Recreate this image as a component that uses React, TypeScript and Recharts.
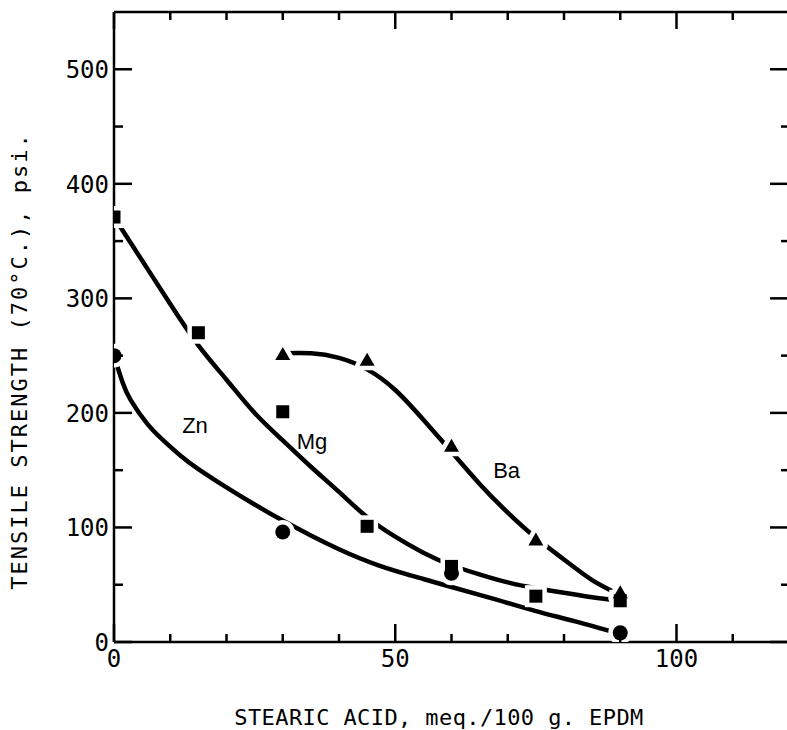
import React from 'react';
import { ComposedChart, Line, Scatter, XAxis, YAxis, ReferenceDot } from 'recharts';

// Measured points (stearic acid meq./100 g EPDM vs tensile strength psi)
const znStearic = [0, 30, 60, 90];
const znTensile = [250, 96, 60, 8];
const mgStearic = [0, 15, 30, 45, 60, 75, 90];
const mgTensile = [371, 270, 201, 101, 66, 40, 36];
const baStearic = [30, 45, 60, 75, 90];
const baTensile = [251, 246, 171, 89, 43];

// Hand-drawn fitted curves
const znCurveX = [0, 1.5, 3, 6, 9, 12, 15, 20, 25, 30, 35, 40, 47, 55, 60, 68, 75, 82, 90];
const znCurveY = [250, 227, 211, 190, 175, 162, 151, 135, 120, 106, 93, 81, 67, 55, 48, 37, 27, 18, 7];
const mgCurveX = [0, 5, 10, 15, 20, 25, 30, 35, 40, 45, 50, 55, 60, 65, 70, 75, 80, 85, 90];
const mgCurveY = [371, 333, 295, 259, 229, 200, 176, 153, 131, 109, 92, 78, 67, 59, 52, 47, 43, 39, 36];
const baCurveX = [30, 35, 40, 45, 50, 55, 60, 65, 70, 75, 80, 85, 90];
const baCurveY = [252, 252, 248, 238, 220, 194, 166, 138, 113, 91, 72, 54, 41];

const xTicks = [0, 10, 20, 30, 40, 50, 60, 70, 80, 90, 100, 110, 120];
const yTicks = [0, 50, 100, 150, 200, 250, 300, 350, 400, 450, 500];
const xLabelTicks = [0, 50, 100];

const X_TITLE = 'STEARIC ACID, meq./100 g. EPDM';
const Y_TITLE = 'TENSILE STRENGTH (70\u00B0C.), psi.';

const pts = (xs: number[], ys: number[]) => xs.map((x, i) => ({ x, y: ys[i] }));

const MONO = '"DejaVu Sans Mono", monospace';
const INK = '#000';
const SW = 2.5;

const BottomTick = (p: any) => {
  const x = Number(p.x);
  const y = Number(p.y);
  const v = p.payload.value;
  const len = v % 50 === 0 ? 18 : 8;
  return (
    <g>
      <line x1={x} y1={y} x2={x} y2={y - len} stroke={INK} strokeWidth={SW} />
      {xLabelTicks.includes(v) && (
        <text x={x} y={y + 25} textAnchor="middle" fontFamily={MONO} fontSize={24} fill={INK}>
          {v}
        </text>
      )}
    </g>
  );
};

const TopTick = (p: any) => {
  const x = Number(p.x);
  const y = Number(p.y);
  const v = p.payload.value;
  const len = v % 50 === 0 ? 17 : 8;
  return <line x1={x} y1={y} x2={x} y2={y + len} stroke={INK} strokeWidth={SW} />;
};

const LeftTick = (p: any) => {
  const x = Number(p.x);
  const y = Number(p.y);
  const v = p.payload.value;
  const major = v % 100 === 0;
  return (
    <g>
      <line x1={x} y1={y} x2={x + (major ? 18 : 9)} y2={y} stroke={INK} strokeWidth={SW} />
      {major && (
        <text x={x - 5} y={y + 9} textAnchor="end" fontFamily={MONO} fontSize={24} fill={INK}>
          {v}
        </text>
      )}
    </g>
  );
};

const RightTick = (p: any) => {
  const x = Number(p.x);
  const y = Number(p.y);
  const v = p.payload.value;
  const len = v % 100 === 0 ? 19 : 8;
  return <line x1={x} y1={y} x2={x - len} y2={y} stroke={INK} strokeWidth={SW} />;
};

const XTitle = () => (
  <text x={439} y={725} textAnchor="middle" fontFamily={MONO} fontSize={22} letterSpacing={0.4} fill={INK}>
    {X_TITLE}
  </text>
);

const YTitle = () => (
  <text x={27} y={361} transform="rotate(-90 27 361)" textAnchor="middle" fontFamily={MONO} fontSize={22} letterSpacing={2} fill={INK}>
    {Y_TITLE}
  </text>
);

const HALO = 9;

const squareShape = (halo: boolean) => (p: any) => {
  const { cx, cy } = p;
  const s = 13;
  return <rect x={cx - s / 2} y={cy - s / 2} width={s} height={s} fill={halo ? '#fff' : INK} stroke={halo ? '#fff' : 'none'} strokeWidth={halo ? HALO : 0} />;
};

const circleShape = (halo: boolean) => (p: any) => {
  const { cx, cy } = p;
  return <circle cx={cx} cy={cy} r={7.5} fill={halo ? '#fff' : INK} stroke={halo ? '#fff' : 'none'} strokeWidth={halo ? HALO : 0} />;
};

const triangleShape = (halo: boolean) => (p: any) => {
  const { cx, cy } = p;
  const d = `M${cx},${cy - 7.5} L${cx + 7.5},${cy + 5.5} L${cx - 7.5},${cy + 5.5} Z`;
  return <path d={d} fill={halo ? '#fff' : INK} stroke={halo ? '#fff' : 'none'} strokeWidth={halo ? HALO : 0} strokeLinejoin="round" />;
};

const annot = (value: string) => ({
  value,
  position: 'center' as const,
  fill: INK,
  fontSize: 22,
  fontFamily: '"Liberation Sans", Arial, sans-serif',
});

export default function App() {
  const zn = pts(znStearic, znTensile);
  const mg = pts(mgStearic, mgTensile);
  const ba = pts(baStearic, baTensile);
  const znC = pts(znCurveX, znCurveY);
  const mgC = pts(mgCurveX, mgCurveY);
  const baC = pts(baCurveX, baCurveY);

  return (
    <div style={{ position: 'absolute', left: 0, top: 0, width: 787, height: 730, overflow: 'hidden', background: '#fff' }}>
      <ComposedChart width={800} height={730} margin={{ top: 11, right: 10, bottom: 0, left: 0 }}>
        <XAxis xAxisId={0} type="number" dataKey="x" domain={[0, 120]} ticks={xTicks} interval={0} height={88} tickSize={0} tickMargin={0} tickLine={false} axisLine={{ stroke: INK, strokeWidth: SW }} tick={<BottomTick />} allowDataOverflow label={<XTitle />} />
        <XAxis xAxisId="top" orientation="top" type="number" dataKey="x" domain={[0, 120]} ticks={xTicks} interval={0} height={1} tickSize={0} tickMargin={0} tickLine={false} axisLine={{ stroke: INK, strokeWidth: SW }} tick={<TopTick />} allowDataOverflow />
        <YAxis yAxisId={0} type="number" domain={[0, 550]} ticks={yTicks} interval={0} width={114} tickSize={0} tickMargin={0} tickLine={false} axisLine={{ stroke: INK, strokeWidth: SW }} tick={<LeftTick />} allowDataOverflow label={<YTitle />} />
        <YAxis yAxisId="right" orientation="right" type="number" domain={[0, 550]} ticks={yTicks} interval={0} width={1} tickSize={0} tickMargin={0} tickLine={false} axisLine={{ stroke: INK, strokeWidth: SW }} tick={<RightTick />} allowDataOverflow />

        <Line data={znC} dataKey="y" type="natural" stroke={INK} strokeWidth={4.5} strokeLinecap="round" dot={false} activeDot={false} isAnimationActive={false} />
        <Line data={mgC} dataKey="y" type="natural" stroke={INK} strokeWidth={4.5} strokeLinecap="round" dot={false} activeDot={false} isAnimationActive={false} />
        <Line data={baC} dataKey="y" type="natural" stroke={INK} strokeWidth={4.5} strokeLinecap="round" dot={false} activeDot={false} isAnimationActive={false} />
        {/* invisible series binding the frame axes (top / right) */}
        <Line data={mgC} xAxisId="top" yAxisId="right" dataKey="y" stroke="none" strokeWidth={0} dot={false} activeDot={false} legendType="none" isAnimationActive={false} />

        <Scatter data={zn} dataKey="y" shape={circleShape(true)} isAnimationActive={false} />
        <Scatter data={mg} dataKey="y" shape={squareShape(true)} isAnimationActive={false} />
        <Scatter data={ba} dataKey="y" shape={triangleShape(true)} isAnimationActive={false} />
        <Scatter data={zn} dataKey="y" shape={circleShape(false)} isAnimationActive={false} />
        <Scatter data={mg} dataKey="y" shape={squareShape(false)} isAnimationActive={false} />
        <Scatter data={ba} dataKey="y" shape={triangleShape(false)} isAnimationActive={false} />

        <ReferenceDot x={14.4} y={189} r={0} stroke="none" fill="none" label={annot('Zn')} />
        <ReferenceDot x={35.2} y={175} r={0} stroke="none" fill="none" label={annot('Mg')} />
        <ReferenceDot x={69.8} y={150} r={0} stroke="none" fill="none" label={annot('Ba')} />
      </ComposedChart>
    </div>
  );
}
